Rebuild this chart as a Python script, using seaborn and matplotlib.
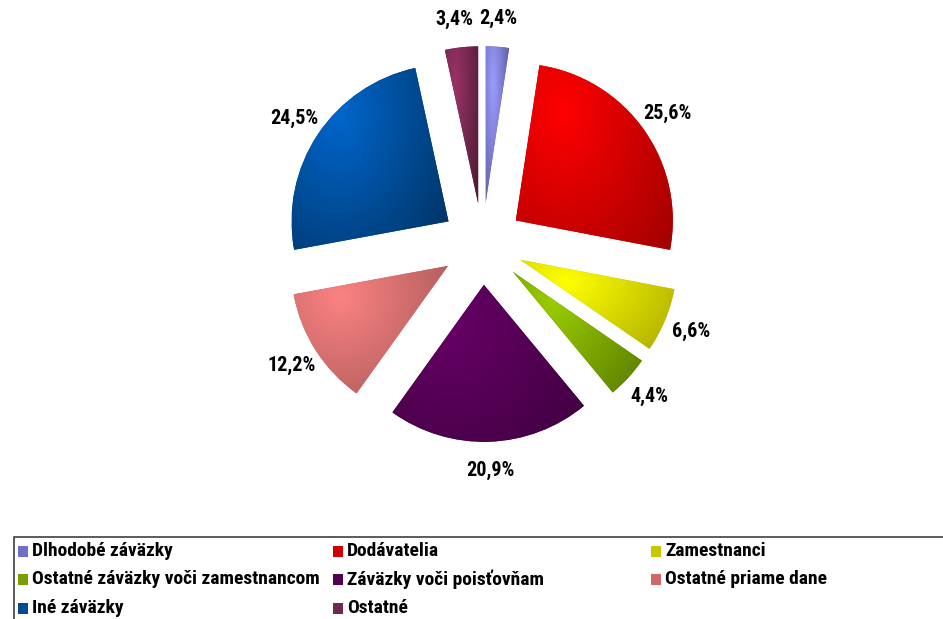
import numpy as np
import matplotlib
matplotlib.use("Agg")
import matplotlib.pyplot as plt
import seaborn as sns
from matplotlib import font_manager
from matplotlib.patches import Rectangle
from matplotlib.colors import LinearSegmentedColormap

sns.set_theme(style="white")
available = {f.name for f in font_manager.fontManager.ttflist}
narrow = [n for n in ['Liberation Sans Narrow', 'DejaVu Sans Condensed', 'Roboto Condensed', 'Roboto']
          if n in available]
plt.rcParams['font.family'] = narrow + ['Liberation Sans', 'DejaVu Sans']

# data
categories = ['Dlhodobé záväzky', 'Dodávatelia', 'Zamestnanci',
              'Ostatné záväzky voči zamestnancom', 'Záväzky voči poisťovňam',
              'Ostatné priame dane', 'Iné záväzky', 'Ostatné']
shares = [2.4, 25.6, 6.6, 4.4, 20.9, 12.2, 24.5, 3.4]

# gradient colours (light -> dark), Excel style
light_colors = ['#9c9cff', '#ff0000', '#ffff00', '#99cc00', '#660066', '#fb8282', '#0066cc', '#993366']
dark_colors = ['#4c4c8a', '#a00000', '#aaaa00', '#5a7c00', '#3e003e', '#a25656', '#00305e', '#4a1a33']
mid_colors = ['#7070c8', '#d00000', '#c8c800', '#78a000', '#520052', '#d06868', '#004c94', '#702850']

W, H = 943, 619
fig = plt.figure(figsize=(W / 100, H / 100), dpi=100)
ax = fig.add_axes([0, 0, 1, 1])

wedges, texts, autotexts = ax.pie(
    shares, startangle=90, counterclock=False, radius=1,
    explode=[0.26] * len(shares), colors=mid_colors,
    autopct=lambda p: f"{p:.1f}%".replace('.', ','), pctdistance=1.18,
    textprops=dict(fontsize=14.5, fontweight='bold', color='black'),
    wedgeprops=dict(linewidth=0))

# fill each wedge with a soft radial gradient, highlight towards upper left
n = 200
gx, gy = np.meshgrid(np.linspace(0, 1, n), np.linspace(1, 0, n))
dist = np.hypot(gx - 0.3, (gy - 0.75) * 0.8)
dist = dist / dist.max()
for w, lc, dc in zip(wedges, light_colors, dark_colors):
    ext = w.get_path().get_extents()
    cmap = LinearSegmentedColormap.from_list('g', [lc, dc])
    im = ax.imshow(dist, cmap=cmap, extent=[ext.x0, ext.x1, ext.y0, ext.y1],
                   aspect='auto', interpolation='bicubic', zorder=2, vmin=0, vmax=1)
    im.set_clip_path(w)

# place pie: centre at (482.5, 244) px, radius 157 px
cx, cy, R = 482.5, 244, 157
ax.set_xlim(-cx / R, (W - cx) / R)
ax.set_ylim(-(H - cy) / R, cy / R)
ax.set_aspect('auto')
ax.axis('off')

# small slices at the top: push labels to either side of the centre line
for w, t in zip(wedges, autotexts):
    t.set_zorder(5)
    mid = np.deg2rad((w.theta1 + w.theta2) / 2)
    if np.sin(mid) > 0.9:
        x, y = t.get_position()
        if np.cos(mid) > 0:
            t.set_ha('left')
            t.set_position((-0.02, y))
        else:
            t.set_ha('right')
            t.set_position((-0.06, y))

# legend box: 3 columns, row-major order
col_x = [18, 333, 651]
row_y0, row_step = 551, 28.5
for i, (name, c) in enumerate(zip(categories, mid_colors)):
    row, col = divmod(i, 3)
    x = col_x[col]
    y = row_y0 + row * row_step
    fig.patches.append(Rectangle((x / W, 1 - (y + 5.5) / H), 10 / W, 11 / H,
                                 transform=fig.transFigure, facecolor=c, edgecolor='none'))
    fig.text((x + 14) / W, 1 - y / H, name, ha='left', va='center',
             fontsize=14, fontweight='bold', color='black')

fig.patches.append(Rectangle((14 / W, -0.05), 1.0, (H - 537) / H + 0.05,
                             transform=fig.transFigure, fill=False,
                             edgecolor='#404040', linewidth=1.2))

fig.savefig('out.png', dpi=100)
